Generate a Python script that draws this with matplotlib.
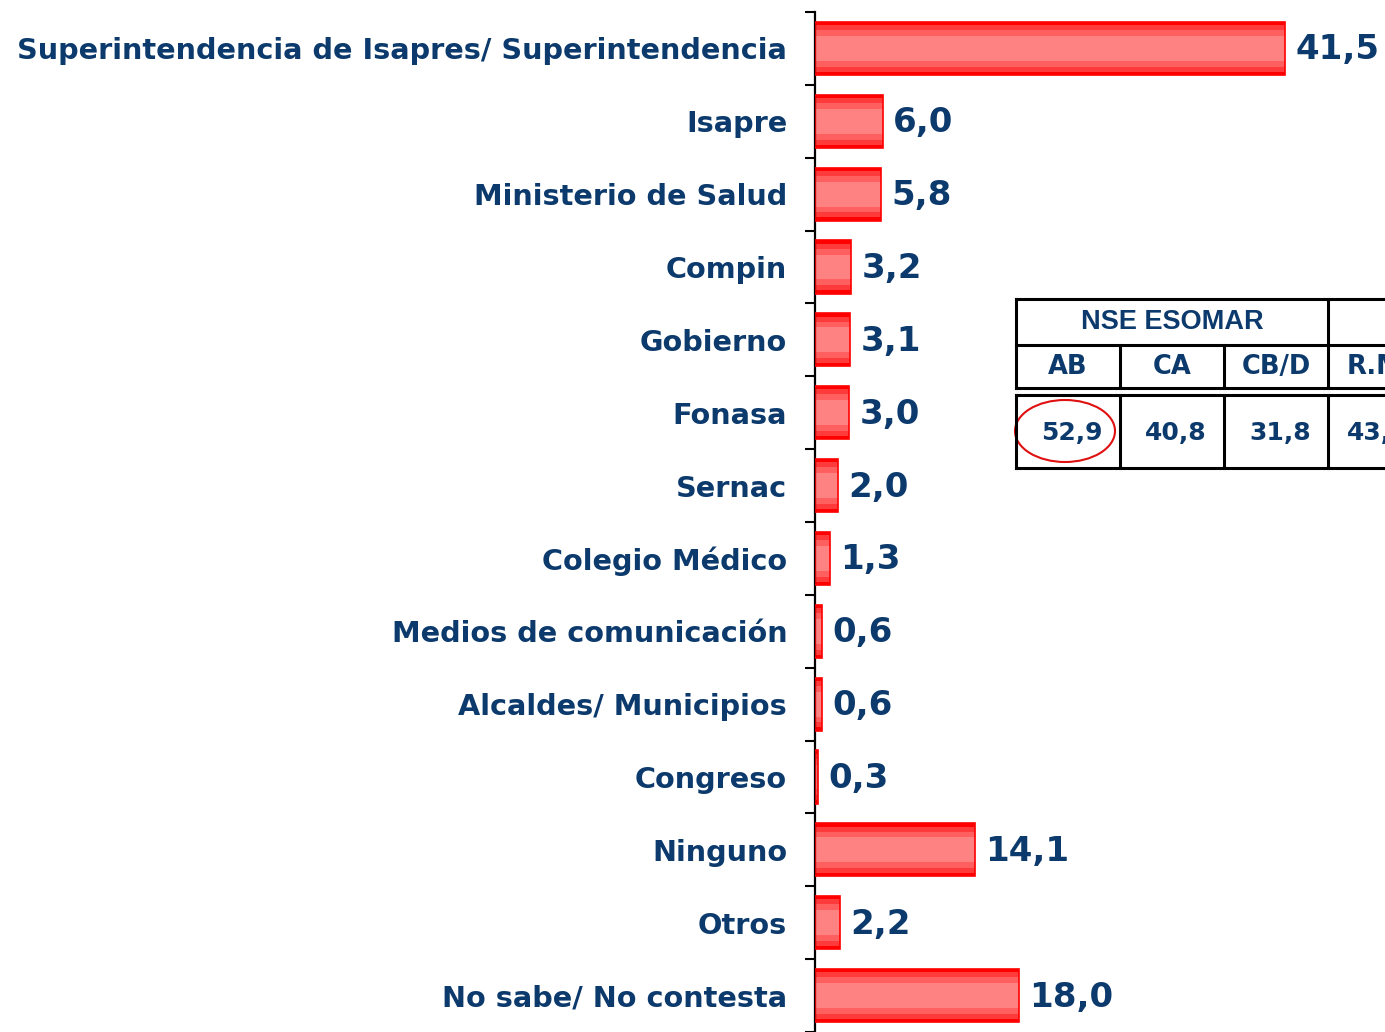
import matplotlib.pyplot as plt
import numpy as np
from matplotlib.patches import Ellipse

categories = [
    "Superintendencia de Isapres/ Superintendencia",
    "Isapre",
    "Ministerio de Salud",
    "Compin",
    "Gobierno",
    "Fonasa",
    "Sernac",
    "Colegio Médico",
    "Medios de comunicación",
    "Alcaldes/ Municipios",
    "Congreso",
    "Ninguno",
    "Otros",
    "No sabe/ No contesta",
]
values = [41.5, 6.0, 5.8, 3.2, 3.1, 3.0, 2.0, 1.3, 0.6, 0.6, 0.3, 14.1, 2.2, 18.0]

table_title = "NSE ESOMAR"
table_headers = ["AB", "CA", "CB/D", "R.M."]
table_values = ["52,9", "40,8", "31,8", "43,0"]

NAVY = "#0C3A6C"
BAR_H = 0.73

fig = plt.figure(figsize=(13.85, 10.32), dpi=100)
ax = fig.add_axes([815 / 1385, 0.0, 570 / 1385, 1 - 12 / 1032])

y = np.arange(len(categories))
# stepped gradient: outer red band to pale centre
layers = [(1.0, "#FF0000"), (0.875, "#FF3A3A"), (0.69, "#FF5F5F"), (0.47, "#FF8282")]
for frac, col in layers:
    ax.barh(y, values, height=BAR_H * frac, color=col, linewidth=0, zorder=2)
ax.barh(y, values, height=BAR_H, facecolor="none", edgecolor="#FF0000",
        linewidth=1.2, zorder=3)

for yi, v in zip(y, values):
    ax.text(v + 0.9, yi + 0.02, f"{v:.1f}".replace(".", ","), va="center", ha="left",
            fontsize=24.5, fontweight="bold", color=NAVY)

ax.set_xlim(0, 50.3)
ax.set_ylim(len(categories) - 0.5, -0.5)

ax.set_yticks(np.arange(len(categories) + 1) - 0.5)
ax.set_yticklabels([])
ax.set_yticks(y, minor=True)
ax.set_yticklabels(categories, minor=True, fontsize=20.7, fontweight="bold", color=NAVY)
ax.tick_params(axis="y", which="major", length=7.5, width=1.5, direction="out")
ax.tick_params(axis="y", which="minor", length=0, pad=20)
ax.set_xticks([])
for s in ["top", "right", "bottom"]:
    ax.spines[s].set_visible(False)
ax.spines["left"].set_linewidth(1.6)

# inset table drawn in pixel coordinates
ov = fig.add_axes([0, 0, 1, 1])
ov.set_xlim(0, 1385)
ov.set_ylim(1032, 0)
ov.axis("off")
ov.patch.set_alpha(0)

cols = [1016, 1120, 1224, 1328, 1432]
lw = 2.2
ov.plot([1016, 1385], [299, 299], color="black", lw=lw)
ov.plot([1016, 1385], [345, 345], color="black", lw=lw)
ov.plot([1016, 1385], [388, 388], color="black", lw=lw)
ov.plot([1016, 1385], [395, 395], color="black", lw=lw)
ov.plot([1016, 1385], [468, 468], color="black", lw=lw)
ov.plot([1016, 1016], [299, 388], color="black", lw=lw)
ov.plot([1016, 1016], [395, 468], color="black", lw=lw)
ov.plot([1328, 1328], [299, 345], color="black", lw=lw)
for c in cols[1:4]:
    ov.plot([c, c], [345, 388], color="black", lw=lw)
    ov.plot([c, c], [395, 468], color="black", lw=lw)

ov.text((1016 + 1328) / 2, 322, table_title, ha="center", va="center",
        fontsize=19.5, fontweight="bold", color=NAVY, family="Liberation Sans")
for i, (h, v) in enumerate(zip(table_headers, table_values)):
    cx = (cols[i] + cols[i + 1]) / 2
    if i < 3:
        ov.text(cx, 367, h, ha="center", va="center", fontsize=18.5,
                fontweight="bold", color=NAVY)
        ov.text(cx + 4, 433, v, ha="center", va="center", fontsize=18,
                fontweight="bold", color=NAVY)
    else:
        ov.text(1347, 367, h, ha="left", va="center", fontsize=18.5,
                fontweight="bold", color=NAVY)
        ov.text(1347, 433, v, ha="left", va="center", fontsize=18,
                fontweight="bold", color=NAVY)

ov.add_patch(Ellipse((1065, 431), 100, 62, fill=False, edgecolor="#E01010", lw=1.5))

fig.savefig("out.png", dpi=100)
